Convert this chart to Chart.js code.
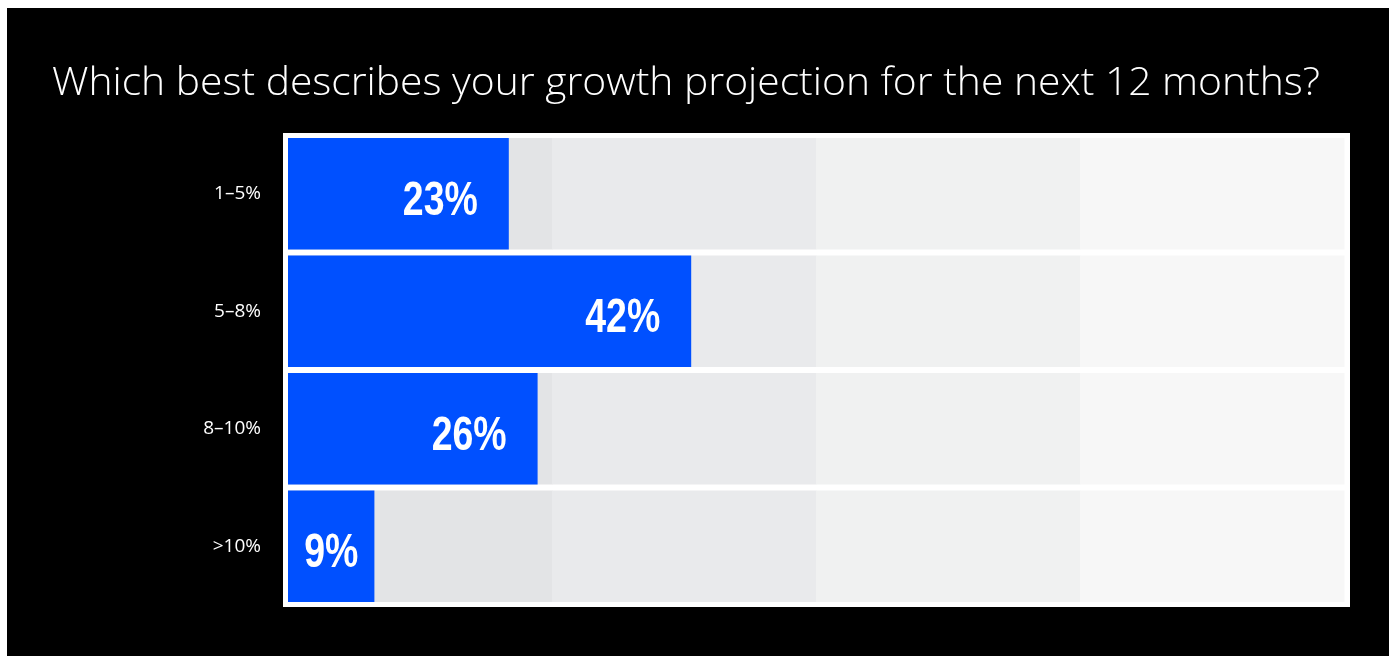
<!DOCTYPE html>
<html>
<head>
<meta charset="utf-8">
<script src="https://cdn.jsdelivr.net/npm/chart.js@4"></script>
<style>
    html, body { margin: 0; padding: 0; background: #fff; }
    #wrap { position: absolute; left: 7px; top: 8px; width: 1382px; height: 648px; background: #000; }
</style>
</head>
<body>
<div id="wrap"><canvas id="chart" width="1382" height="648"></canvas></div>
<script>
const title = 'Which best describes your growth projection for the next 12 months?';
const categories = ['1–5%', '5–8%', '8–10%', '>10%'];
const shares = [23, 42, 26, 9];
const axisMax = 110;

const barBlue = '#0050ff';
const bandColors = ['#e3e4e6', '#e9eaec', '#f0f1f1', '#f7f7f7'];

// white frame plus the four shaded columns behind each row
const backdrop = {
    id: 'backdrop',
    beforeDatasetsDraw(chart) {
        const {ctx, chartArea: a} = chart;
        ctx.save();
        ctx.fillStyle = '#fff';
        ctx.fillRect(a.left - 5, a.top - 2, a.width + 11, a.height + 4);
        const colW = a.width / bandColors.length;
        chart.getDatasetMeta(0).data.forEach(bar => {
            const top = bar.y - bar.height / 2;
            bandColors.forEach((c, i) => {
                ctx.fillStyle = c;
                ctx.fillRect(a.left + i * colW, top, colW + 0.5, bar.height);
            });
        });
        ctx.restore();
    }
};

// condensed bold value labels inside the bars
const valueLabels = {
    id: 'valueLabels',
    afterDatasetsDraw(chart) {
        const {ctx} = chart;
        const squeeze = 0.78;
        ctx.save();
        ctx.fillStyle = '#fff';
        ctx.font = 'bold 48px "Liberation Sans", Arial, sans-serif';
        ctx.textBaseline = 'alphabetic';
        chart.getDatasetMeta(0).data.forEach((bar, i) => {
            const text = shares[i] + '%';
            const w = ctx.measureText(text).width * squeeze;
            const left = bar.base;
            const right = bar.x;
            let x = right - 31 - w;
            if (x < left + 10) x = (left + right) / 2 - w / 2;
            ctx.save();
            ctx.translate(x, bar.y + 21);
            ctx.scale(squeeze, 1);
            ctx.fillText(text, 0, 0);
            ctx.restore();
        });
        ctx.restore();
    }
};

const heading = {
    id: 'heading',
    afterDraw(chart) {
        const {ctx} = chart;
        ctx.save();
        ctx.fillStyle = '#fff';
        ctx.font = '300 39px "Open Sans", sans-serif';
        ctx.textBaseline = 'alphabetic';
        const w = ctx.measureText(title).width;
        const target = 1268;
        ctx.translate(45, 87);
        ctx.scale(target / w, 1);
        ctx.fillText(title, 0, 0);
        ctx.restore();
    }
};

new Chart(document.getElementById('chart'), {
    type: 'bar',
    data: {
        labels: categories,
        datasets: [{
            data: shares,
            backgroundColor: barBlue,
            borderWidth: 0,
            categoryPercentage: 1,
            barPercentage: 0.949
        }]
    },
    options: {
        indexAxis: 'y',
        responsive: false,
        animation: false,
        layout: {padding: {top: 127, bottom: 51, left: 0, right: 45}},
        scales: {
            x: {display: false, min: 0, max: axisMax},
            y: {
                afterFit(scale) { scale.width = 281; },
                grid: {display: false, drawTicks: false},
                border: {display: false},
                ticks: {
                    color: '#fff',
                    padding: 27,
                    font: {family: '"Open Sans", sans-serif', size: 19}
                }
            }
        },
        plugins: {
            legend: {display: false},
            tooltip: {enabled: false}
        }
    },
    plugins: [backdrop, valueLabels, heading]
});
</script>
</body>
</html>
